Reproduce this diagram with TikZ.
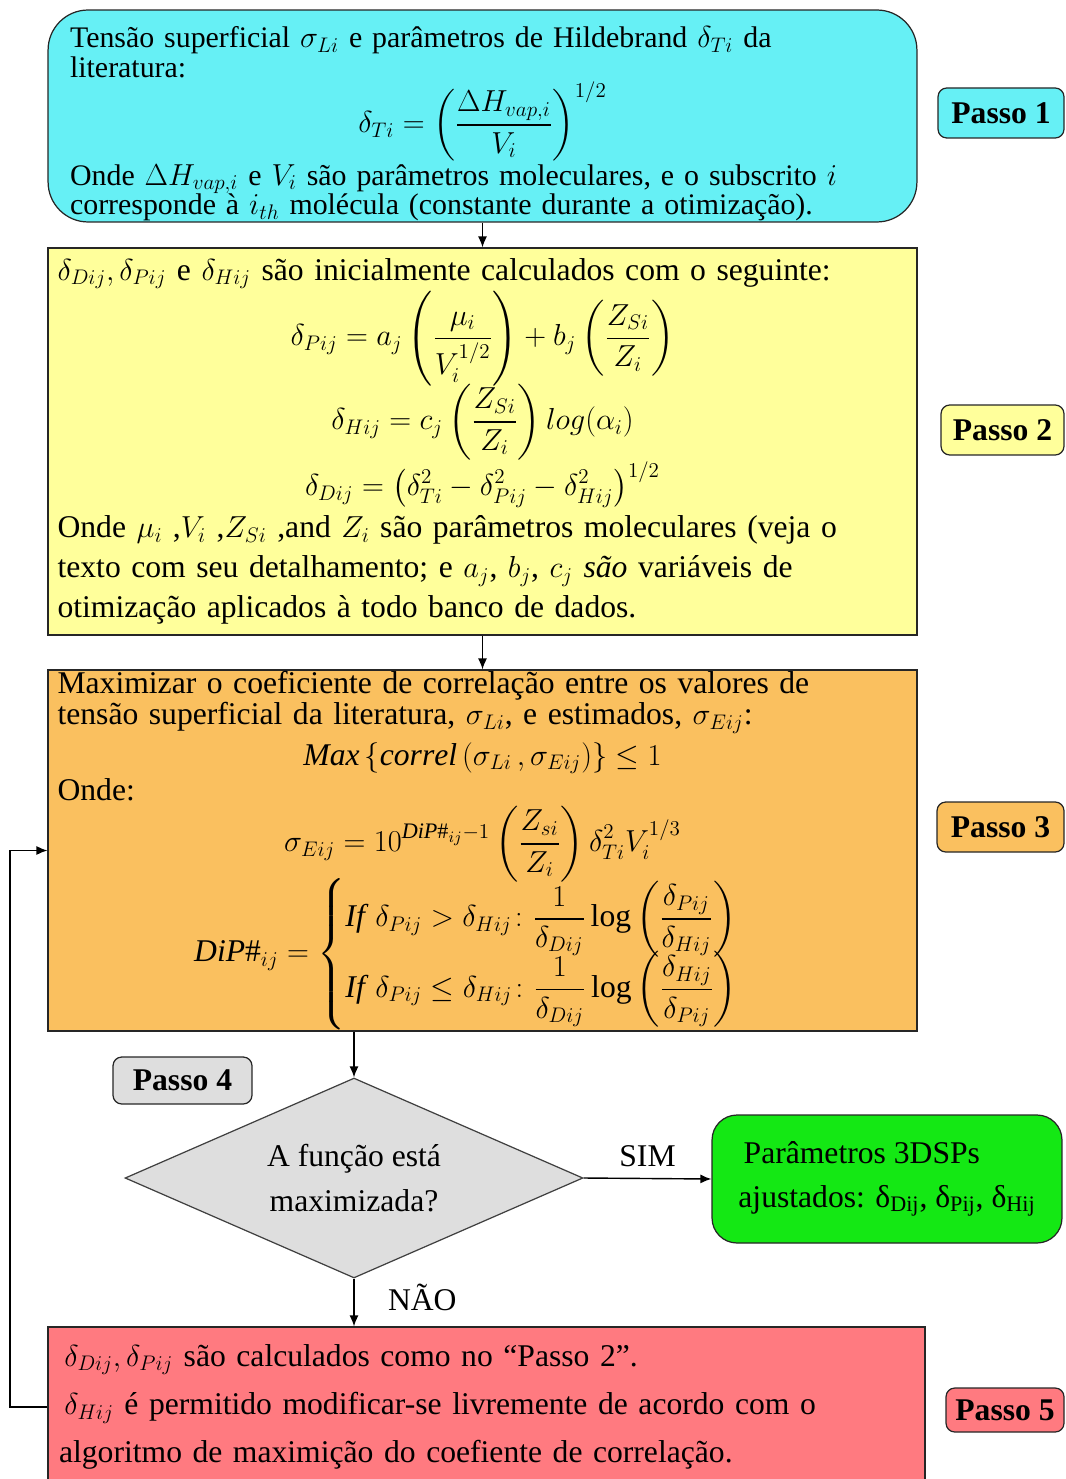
\documentclass[tikz,border=0pt]{standalone}
\usepackage{amsmath,amssymb}
\usepackage{fontspec}
\setmainfont{Liberation Serif}
\usetikzlibrary{arrows.meta,positioning,shapes.geometric}
\definecolor{stepcyan}{RGB}{102,240,245}
\definecolor{stepyellow}{RGB}{255,255,155}
\definecolor{steporange}{RGB}{250,192,95}
\definecolor{stepgreen}{RGB}{20,232,20}
\definecolor{stepred}{RGB}{255,122,128}
\definecolor{stepgray}{RGB}{222,222,222}
\newcommand{\eqgaps}[2]{\setlength{\abovedisplayskip}{#1}\setlength{\belowdisplayskip}{#2}\setlength{\abovedisplayshortskip}{#1}\setlength{\belowdisplayshortskip}{#2}}

\begin{document}
\begin{tikzpicture}[x=0.02cm, y=-0.02cm,
    every node/.style={font=\fontsize{18}{22}\selectfont},
    stepbox/.style={draw=black!85, line width=0.7pt, align=left, inner sep=0pt},
    passolabel/.style={draw=black!85, line width=0.7pt, rounded corners=5pt, inner sep=0pt, font=\fontsize{18}{20}\selectfont\bfseries},
    flow/.style={line width=0.8pt, -{Latex[length=2.2mm,width=1.8mm]}}]
    \useasboundingbox (0,0) rectangle (1065,1479);

    \node[stepbox, fill=stepcyan, rounded corners=0.8cm, minimum width=17.38cm, minimum height=4.24cm, text width=16.5cm, font=\fontsize{17}{17}\selectfont] (step1box) at (482.5,116) {\eqgaps{1pt}{1pt}\rule{0pt}{21pt}Tensão superficial $\sigma_{Li}$ e parâmetros de Hildebrand $\delta_{Ti}$ da\\ literatura:\[\delta_{Ti}=\left(\frac{\Delta H_{vap,i}}{V_i}\right)^{1/2}\]Onde $\Delta H_{vap,i}$ e $V_i$ são parâmetros moleculares, e o subscrito $i$\\ corresponde à $i_{th}$ molécula (constante durante a otimização).};

    \node[stepbox, fill=stepyellow, minimum width=17.38cm, minimum height=7.74cm, text width=17.0cm, font=\fontsize{18}{22.8}\selectfont] (step2box) at (482.5,441.5) {\eqgaps{0pt}{1pt}$\delta_{Dij}, \delta_{Pij}$ e $\delta_{Hij}$ são inicialmente calculados com o seguinte:
    \begin{gather*}
        \delta_{Pij}=a_j\left(\frac{\mu_i}{V_i^{1/2}}\right)+b_j\left(\frac{Z_{Si}}{Z_i}\right)\\[-5pt]
        \delta_{Hij}=c_j\left(\frac{Z_{Si}}{Z_i}\right)log(\alpha_i)\\[-3pt]
        \delta_{Dij}=\left(\delta_{Ti}^2-\delta_{Pij}^2-\delta_{Hij}^2\right)^{1/2}
    \end{gather*}
    Onde $\mu_i$ ,$V_i$ ,$Z_{Si}$ ,and $Z_i$ são parâmetros moleculares (veja o\\ texto com seu detalhamento; e $a_j$, $b_j$, $c_j$ \textit{são} variáveis de\\ otimização aplicados à todo banco de dados.};

    \node[stepbox, fill=steporange, minimum width=17.38cm, minimum height=7.22cm, text width=17.0cm, font=\fontsize{18}{18}\selectfont] (step3box) at (482.5,850.5) {\eqgaps{5pt}{2pt}Maximizar o coeficiente de correlação entre os valores de\\ tensão superficial da literatura, $\sigma_{Li}$, e estimados, $\sigma_{Eij}$:
    \[\mathit{Max}\left\{\mathit{correl}\left(\sigma_{Li}\,,\sigma_{Eij}\right)\right\}\le 1\]
    Onde:\eqgaps{2pt}{1pt}
    \begin{gather*}
        \sigma_{Eij}=10^{\mathit{DiP}\#_{ij}-1}\left(\frac{Z_{si}}{Z_i}\right)\delta_{Ti}^2V_i^{1/3}\\[-6pt]
        \mathit{DiP}\#_{ij}=\begin{cases}
            \mathit{If}\ \delta_{Pij}>\delta_{Hij}\colon \dfrac{1}{\delta_{Dij}}\log\left(\dfrac{\delta_{Pij}}{\delta_{Hij}}\right)\\[-3pt]
            \mathit{If}\ \delta_{Pij}\le\delta_{Hij}\colon \dfrac{1}{\delta_{Dij}}\log\left(\dfrac{\delta_{Hij}}{\delta_{Pij}}\right)
        \end{cases}
    \end{gather*}};

    \node[diamond, aspect=2.29, draw=black!75, line width=0.7pt, fill=stepgray, minimum width=9.16cm, minimum height=4cm, inner sep=0pt, align=center] (decision) at (354,1178) {A função está\\[4pt] maximizada?};

    \node[stepbox, fill=stepgreen, rounded corners=0.5cm, minimum width=7.0cm, minimum height=2.56cm] (resultbox) at (887,1179) {\,Parâmetros 3DSPs\\[3pt] ajustados: δ\textsubscript{Dij}, δ\textsubscript{Pij}, δ\textsubscript{Hij}};

    \node[stepbox, fill=stepred, minimum width=17.54cm, minimum height=3.2cm, text width=17.1cm, font=\fontsize{18}{27.5}\selectfont] (step5box) at (486.5,1407) {\,$\delta_{Dij}, \delta_{Pij}$ são calculados como no “Passo 2”.\\ \,$\delta_{Hij}$ é permitido modificar-se livremente de acordo com o\\ algoritmo de maximição do coefiente de correlação.};

    \node[passolabel, fill=stepcyan, minimum width=2.52cm, minimum height=1cm] (passo1) at (1001,113) {Passo 1};
    \node[passolabel, fill=stepyellow, minimum width=2.46cm, minimum height=1cm] (passo2) at (1002.5,430) {Passo 2};
    \node[passolabel, fill=steporange, minimum width=2.54cm, minimum height=1cm] (passo3) at (1000.5,827) {Passo 3};
    \node[passolabel, fill=stepgray, minimum width=2.78cm, minimum height=0.94cm] (passo4) at (182.5,1080.5) {Passo 4};
    \node[passolabel, fill=stepred, minimum width=2.36cm, minimum height=0.88cm] (passo5) at (1005,1410) {Passo 5};

    \coordinate (loopcorner) at (10,1407);

    \draw[flow] (step1box.south) -- (step2box.north);
    \draw[flow] (step2box.south) -- (step3box.north);
    \draw[flow] (step3box.south -| decision.north) -- (decision.north);
    \draw[flow] (decision.east) -- node[above=3pt] (simlabel) {SIM} (resultbox.west);
    \draw[flow] (decision.south) -- node[right=0.55cm, yshift=0.1cm] (naolabel) {NÃO} (step5box.north -| decision.south);
    \draw[flow] (step5box.west) -- (loopcorner) |- (step3box.west);
\end{tikzpicture}
\end{document}
